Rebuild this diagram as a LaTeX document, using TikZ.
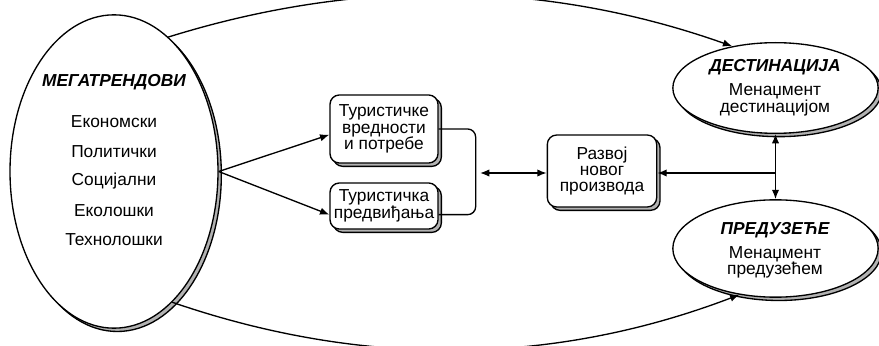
\documentclass[tikz,border=0pt]{standalone}
\usepackage{fontspec}
\setmainfont{Liberation Sans}
\usepackage{tikz}
\usetikzlibrary{shapes, arrows.meta, shadows}

\begin{document}
\begin{tikzpicture}[x=0.75pt, y=-0.75pt, >={Latex[length=7pt, width=5.5pt]}, line width=1pt,
        sh/.style = {drop shadow={shadow xshift=2.5pt, shadow yshift=-2.5pt, fill=gray!60, draw=black, opacity=1}},
        ell/.style = {draw, ellipse, fill=white, inner sep=0pt, sh},
        box/.style = {draw, rectangle, rounded corners=7pt, fill=white, inner sep=0pt, minimum width=81pt, align=center, font=\fontsize{13}{12.3}\selectfont, sh},
        txt/.style = {align=center, inner sep=0pt, font=\fontsize{13}{12.3}\selectfont},
        head/.style = {inner sep=0pt, font=\fontsize{13}{13}\selectfont\bfseries\itshape}]
                \useasboundingbox (0,0) rectangle (879,346);
                \clip (0,0) rectangle (879,346);

                \node[ell, minimum width=156pt, minimum height=235pt] at (114, 171.5) (M) {};
                \node[head] at (114, 82) (M0) {МЕГАТРЕНДОВИ};
                \foreach \t [count=\i] in {Економски, Политички, Социјални, Еколошки, Технолошки}
                        \node[txt] at (114, 92.5+29.5*\i) (M\i) {\t};

                \node[box, minimum height=51pt] at (384, 129) (V) {Туристичке\\вредности\\и потребе};
                \node[box, minimum height=34.5pt] at (384, 206) (T) {Туристичка\\предвиђања};
                \node[box, minimum width=82pt, minimum height=54pt] at (602, 171) (R) {Развој\\новог\\производа};

                \node[ell, minimum width=154pt, minimum height=68pt] at (775.5, 88) (D) {};
                \node[head] at (775, 67) (D0) {ДЕСТИНАЦИЈА};
                \node[txt] at (775, 100) (D1) {Менаџмент\\дестинацијом};
                \node[ell, minimum width=154pt, minimum height=73pt] at (775.5, 248.5) (P) {};
                \node[head] at (775, 230) (P0) {ПРЕДУЗЕЋЕ};
                \node[txt] at (775, 262.5) (P1) {Менаџмент\\предузећем};

                \coordinate (J) at (480, 173);
                \coordinate (K) at (775, 173);

                \draw [->] (M.east) -- (V.186);
                \draw [->] (M.east) -- (T.189);
                \draw [rounded corners=6pt] (V.east) -- ++(37,0) |- (T.-9);
                \draw [<->] (J) -- (J -| R.west);
                \draw [->] (K) -- (K -| R.east);
                \draw [<->] (D.south) -- (P.north);
                \draw [->] (M.68) .. controls (355,-21) and (542,-21) .. (D.136);
                \draw [->] (M.-66) .. controls (360,367) and (550,367) .. (P.232);
            \end{tikzpicture}
\end{document}
